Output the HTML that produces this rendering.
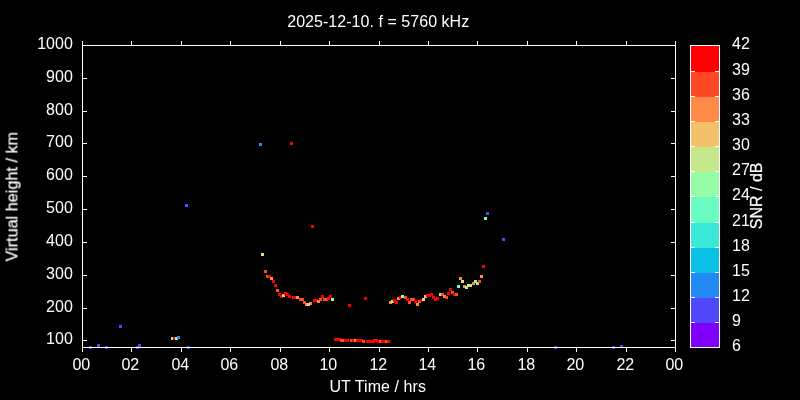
<!DOCTYPE html>
<html lang="en"><head><meta charset="utf-8"><title>2025-12-10. f = 5760 kHz</title>
<style>html,body{margin:0;padding:0;background:#000;overflow:hidden}svg{display:block}.tx{filter:grayscale(1)}text{font-family:"Liberation Sans", sans-serif;font-size:16px;fill:#fff}.rot{stroke:#fff;stroke-width:.2px}.ln{fill:#fff;shape-rendering:crispEdges}.pt{shape-rendering:crispEdges}</style></head><body>
<svg width="800" height="400" viewBox="0 0 800 400">
<rect width="800" height="400" fill="#000"/>
<g class="pt">
<rect x="89" y="346" width="3" height="3" fill="#5148fc"/>
<rect x="97" y="344" width="3" height="3" fill="#5148fc"/>
<rect x="105" y="346" width="3" height="3" fill="#5148fc"/>
<rect x="119" y="325" width="3" height="3" fill="#5148fc"/>
<rect x="136" y="346" width="3" height="3" fill="#5148fc"/>
<rect x="138" y="344" width="3" height="3" fill="#5148fc"/>
<rect x="171" y="337" width="3" height="3" fill="#68fcc1"/>
<rect x="173" y="337" width="3" height="3" fill="#ff0000"/>
<rect x="175" y="337" width="3" height="3" fill="#c5e88a"/>
<rect x="177" y="336" width="3" height="3" fill="#238af5"/>
<rect x="185" y="204" width="3" height="3" fill="#5148fc"/>
<rect x="187" y="346" width="3" height="3" fill="#5148fc"/>
<rect x="259" y="143" width="3" height="3" fill="#238af5"/>
<rect x="261" y="253" width="3" height="3" fill="#c5e88a"/>
<rect x="264" y="270" width="3" height="3" fill="#ff4824"/>
<rect x="266" y="275" width="3" height="3" fill="#ff4824"/>
<rect x="268" y="275" width="3" height="3" fill="#ff0000"/>
<rect x="270" y="277" width="3" height="3" fill="#ff8a48"/>
<rect x="272" y="280" width="3" height="3" fill="#ff0000"/>
<rect x="274" y="284" width="3" height="3" fill="#ff0000"/>
<rect x="276" y="289" width="3" height="3" fill="#ff4824"/>
<rect x="278" y="293" width="3" height="3" fill="#ff0000"/>
<rect x="280" y="295" width="3" height="3" fill="#ff0000"/>
<rect x="282" y="294" width="3" height="3" fill="#f3c16a"/>
<rect x="284" y="292" width="3" height="3" fill="#ff0000"/>
<rect x="286" y="293" width="3" height="3" fill="#ff0000"/>
<rect x="288" y="295" width="3" height="3" fill="#ff0000"/>
<rect x="290" y="142" width="3" height="3" fill="#ff0000"/>
<rect x="292" y="296" width="3" height="3" fill="#ff0000"/>
<rect x="293" y="296" width="3" height="3" fill="#ff0000"/>
<rect x="296" y="296" width="3" height="3" fill="#ff8a48"/>
<rect x="299" y="298" width="3" height="3" fill="#ff4824"/>
<rect x="301" y="298" width="3" height="3" fill="#ff4824"/>
<rect x="303" y="301" width="3" height="3" fill="#ff4824"/>
<rect x="305" y="303" width="3" height="3" fill="#ff8a48"/>
<rect x="307" y="303" width="3" height="3" fill="#c5e88a"/>
<rect x="309" y="302" width="3" height="3" fill="#ff8a48"/>
<rect x="311" y="225" width="3" height="3" fill="#ff0000"/>
<rect x="313" y="299" width="3" height="3" fill="#ff0000"/>
<rect x="315" y="299" width="3" height="3" fill="#ff0000"/>
<rect x="317" y="300" width="3" height="3" fill="#ff8a48"/>
<rect x="319" y="298" width="3" height="3" fill="#ff4824"/>
<rect x="321" y="295" width="3" height="3" fill="#ff0000"/>
<rect x="323" y="298" width="3" height="3" fill="#ff4824"/>
<rect x="325" y="298" width="3" height="3" fill="#ff4824"/>
<rect x="327" y="297" width="3" height="3" fill="#ff0000"/>
<rect x="329" y="295" width="3" height="3" fill="#ff0000"/>
<rect x="331" y="298" width="3" height="3" fill="#97fca7"/>
<rect x="334" y="338" width="3" height="3" fill="#ff0000"/>
<rect x="336" y="338" width="3" height="3" fill="#ff0000"/>
<rect x="338" y="338" width="3" height="3" fill="#ff0000"/>
<rect x="340" y="339" width="3" height="3" fill="#ff4824"/>
<rect x="342" y="339" width="3" height="3" fill="#ff4824"/>
<rect x="344" y="339" width="3" height="3" fill="#ff0000"/>
<rect x="346" y="339" width="3" height="3" fill="#ff0000"/>
<rect x="348" y="304" width="3" height="3" fill="#ff0000"/>
<rect x="350" y="339" width="3" height="3" fill="#ff4824"/>
<rect x="352" y="339" width="3" height="3" fill="#ff0000"/>
<rect x="354" y="339" width="3" height="3" fill="#ff8a48"/>
<rect x="356" y="339" width="3" height="3" fill="#ff0000"/>
<rect x="358" y="339" width="3" height="3" fill="#ff0000"/>
<rect x="360" y="339" width="3" height="3" fill="#ff0000"/>
<rect x="362" y="340" width="3" height="3" fill="#ff4824"/>
<rect x="364" y="297" width="3" height="3" fill="#ff0000"/>
<rect x="366" y="340" width="3" height="3" fill="#ff0000"/>
<rect x="368" y="340" width="3" height="3" fill="#ff0000"/>
<rect x="370" y="340" width="3" height="3" fill="#ff0000"/>
<rect x="372" y="340" width="3" height="3" fill="#ff0000"/>
<rect x="373" y="339" width="3" height="3" fill="#ff0000"/>
<rect x="375" y="339" width="3" height="3" fill="#ff0000"/>
<rect x="377" y="340" width="3" height="3" fill="#ff0000"/>
<rect x="379" y="340" width="3" height="3" fill="#ff4824"/>
<rect x="381" y="340" width="3" height="3" fill="#ff0000"/>
<rect x="383" y="340" width="3" height="3" fill="#ff0000"/>
<rect x="385" y="340" width="3" height="3" fill="#ff4824"/>
<rect x="387" y="340" width="3" height="3" fill="#ff0000"/>
<rect x="389" y="301" width="3" height="3" fill="#ff8a48"/>
<rect x="391" y="300" width="3" height="3" fill="#c5e88a"/>
<rect x="393" y="299" width="3" height="3" fill="#ff0000"/>
<rect x="395" y="301" width="3" height="3" fill="#ff0000"/>
<rect x="397" y="297" width="3" height="3" fill="#ff8a48"/>
<rect x="399" y="296" width="3" height="3" fill="#ff0000"/>
<rect x="401" y="295" width="3" height="3" fill="#97fca7"/>
<rect x="404" y="296" width="3" height="3" fill="#ff4824"/>
<rect x="406" y="298" width="3" height="3" fill="#ff0000"/>
<rect x="408" y="301" width="3" height="3" fill="#ff4824"/>
<rect x="410" y="298" width="3" height="3" fill="#ff4824"/>
<rect x="412" y="298" width="3" height="3" fill="#ff4824"/>
<rect x="414" y="300" width="3" height="3" fill="#ff0000"/>
<rect x="416" y="303" width="3" height="3" fill="#ff8a48"/>
<rect x="418" y="300" width="3" height="3" fill="#ff4824"/>
<rect x="420" y="299" width="3" height="3" fill="#ff0000"/>
<rect x="422" y="298" width="3" height="3" fill="#c5e88a"/>
<rect x="424" y="295" width="3" height="3" fill="#f3c16a"/>
<rect x="426" y="294" width="3" height="3" fill="#ff0000"/>
<rect x="428" y="294" width="3" height="3" fill="#ff0000"/>
<rect x="430" y="293" width="3" height="3" fill="#ff0000"/>
<rect x="432" y="296" width="3" height="3" fill="#ff0000"/>
<rect x="434" y="298" width="3" height="3" fill="#ff0000"/>
<rect x="436" y="297" width="3" height="3" fill="#ff0000"/>
<rect x="439" y="293" width="3" height="3" fill="#c5e88a"/>
<rect x="441" y="293" width="3" height="3" fill="#ff4824"/>
<rect x="443" y="295" width="3" height="3" fill="#ff8a48"/>
<rect x="445" y="296" width="3" height="3" fill="#ff4824"/>
<rect x="447" y="292" width="3" height="3" fill="#ff0000"/>
<rect x="449" y="288" width="3" height="3" fill="#ff0000"/>
<rect x="451" y="291" width="3" height="3" fill="#ff4824"/>
<rect x="453" y="293" width="3" height="3" fill="#ff0000"/>
<rect x="455" y="293" width="3" height="3" fill="#ff4824"/>
<rect x="457" y="285" width="3" height="3" fill="#68fcc1"/>
<rect x="459" y="277" width="3" height="3" fill="#ff8a48"/>
<rect x="461" y="280" width="3" height="3" fill="#c5e88a"/>
<rect x="463" y="285" width="3" height="3" fill="#ff8a48"/>
<rect x="465" y="286" width="3" height="3" fill="#c5e88a"/>
<rect x="467" y="284" width="3" height="3" fill="#c5e88a"/>
<rect x="469" y="284" width="3" height="3" fill="#c5e88a"/>
<rect x="472" y="282" width="3" height="3" fill="#ff8a48"/>
<rect x="474" y="280" width="3" height="3" fill="#97fca7"/>
<rect x="476" y="282" width="3" height="3" fill="#c5e88a"/>
<rect x="478" y="280" width="3" height="3" fill="#ff4824"/>
<rect x="480" y="275" width="3" height="3" fill="#ff8a48"/>
<rect x="482" y="265" width="3" height="3" fill="#ff0000"/>
<rect x="484" y="217" width="3" height="3" fill="#68fcc1"/>
<rect x="486" y="212" width="3" height="3" fill="#5148fc"/>
<rect x="502" y="238" width="3" height="3" fill="#5148fc"/>
<rect x="554" y="346" width="3" height="3" fill="#5148fc"/>
<rect x="612" y="346" width="3" height="3" fill="#5148fc"/>
<rect x="620" y="345" width="3" height="3" fill="#5148fc"/>
</g>
<g class="ln">
<rect x="82" y="45" width="594" height="1"/>
<rect x="82" y="347" width="594" height="1"/>
<rect x="82" y="45" width="1" height="303"/>
<rect x="675" y="45" width="1" height="303"/>
<rect x="82" y="41" width="1" height="4"/>
<rect x="82" y="348" width="1" height="4"/>
<rect x="131" y="41" width="1" height="4"/>
<rect x="131" y="348" width="1" height="4"/>
<rect x="181" y="41" width="1" height="4"/>
<rect x="181" y="348" width="1" height="4"/>
<rect x="230" y="41" width="1" height="4"/>
<rect x="230" y="348" width="1" height="4"/>
<rect x="280" y="41" width="1" height="4"/>
<rect x="280" y="348" width="1" height="4"/>
<rect x="329" y="41" width="1" height="4"/>
<rect x="329" y="348" width="1" height="4"/>
<rect x="379" y="41" width="1" height="4"/>
<rect x="379" y="348" width="1" height="4"/>
<rect x="428" y="41" width="1" height="4"/>
<rect x="428" y="348" width="1" height="4"/>
<rect x="477" y="41" width="1" height="4"/>
<rect x="477" y="348" width="1" height="4"/>
<rect x="527" y="41" width="1" height="4"/>
<rect x="527" y="348" width="1" height="4"/>
<rect x="576" y="41" width="1" height="4"/>
<rect x="576" y="348" width="1" height="4"/>
<rect x="626" y="41" width="1" height="4"/>
<rect x="626" y="348" width="1" height="4"/>
<rect x="675" y="41" width="1" height="4"/>
<rect x="675" y="348" width="1" height="4"/>
<rect x="83" y="45" width="4" height="1"/>
<rect x="671" y="45" width="4" height="1"/>
<rect x="83" y="78" width="4" height="1"/>
<rect x="671" y="78" width="4" height="1"/>
<rect x="83" y="111" width="4" height="1"/>
<rect x="671" y="111" width="4" height="1"/>
<rect x="83" y="143" width="4" height="1"/>
<rect x="671" y="143" width="4" height="1"/>
<rect x="83" y="176" width="4" height="1"/>
<rect x="671" y="176" width="4" height="1"/>
<rect x="83" y="209" width="4" height="1"/>
<rect x="671" y="209" width="4" height="1"/>
<rect x="83" y="242" width="4" height="1"/>
<rect x="671" y="242" width="4" height="1"/>
<rect x="83" y="275" width="4" height="1"/>
<rect x="671" y="275" width="4" height="1"/>
<rect x="83" y="308" width="4" height="1"/>
<rect x="671" y="308" width="4" height="1"/>
<rect x="83" y="340" width="4" height="1"/>
<rect x="671" y="340" width="4" height="1"/>
</g>
<g class="tx">
<text x="81.30" y="369.5" text-anchor="middle">00</text>
<text x="130.30" y="369.5" text-anchor="middle">02</text>
<text x="180.30" y="369.5" text-anchor="middle">04</text>
<text x="229.30" y="369.5" text-anchor="middle">06</text>
<text x="279.30" y="369.5" text-anchor="middle">08</text>
<text x="328.30" y="369.5" text-anchor="middle">10</text>
<text x="378.30" y="369.5" text-anchor="middle">12</text>
<text x="427.30" y="369.5" text-anchor="middle">14</text>
<text x="476.30" y="369.5" text-anchor="middle">16</text>
<text x="526.30" y="369.5" text-anchor="middle">18</text>
<text x="575.30" y="369.5" text-anchor="middle">20</text>
<text x="625.30" y="369.5" text-anchor="middle">22</text>
<text x="674.30" y="369.5" text-anchor="middle">00</text>
<text x="72.8" y="49.10" text-anchor="end">1000</text>
<text x="72.8" y="82.10" text-anchor="end">900</text>
<text x="72.8" y="115.10" text-anchor="end">800</text>
<text x="72.8" y="147.10" text-anchor="end">700</text>
<text x="72.8" y="180.10" text-anchor="end">600</text>
<text x="72.8" y="213.10" text-anchor="end">500</text>
<text x="72.8" y="246.10" text-anchor="end">400</text>
<text x="72.8" y="279.10" text-anchor="end">300</text>
<text x="72.8" y="312.10" text-anchor="end">200</text>
<text x="72.8" y="344.10" text-anchor="end">100</text>
<text x="378.2" y="27.0" text-anchor="middle" textLength="182" lengthAdjust="spacing">2025-12-10. f = 5760 kHz</text>
<text x="377.7" y="391.8" text-anchor="middle" textLength="96.5" lengthAdjust="spacing">UT Time / hrs</text>
<text class="rot" transform="translate(17.5,196.7) rotate(-90)" text-anchor="middle" textLength="129.4" lengthAdjust="spacing">Virtual height / km</text>
</g>
<g class="pt">
<rect x="690" y="323" width="30" height="25" fill="#8000ff"/>
<rect x="690" y="298" width="30" height="25" fill="#5148fc"/>
<rect x="690" y="273" width="30" height="25" fill="#238af5"/>
<rect x="690" y="248" width="30" height="25" fill="#0cc1e8"/>
<rect x="690" y="223" width="30" height="25" fill="#3ae8d7"/>
<rect x="690" y="197" width="30" height="26" fill="#68fcc1"/>
<rect x="690" y="172" width="30" height="25" fill="#97fca7"/>
<rect x="690" y="147" width="30" height="25" fill="#c5e88a"/>
<rect x="690" y="122" width="30" height="25" fill="#f3c16a"/>
<rect x="690" y="97" width="30" height="25" fill="#ff8a48"/>
<rect x="690" y="72" width="30" height="25" fill="#ff4824"/>
<rect x="690" y="46" width="30" height="26" fill="#ff0000"/>
</g>
<g class="ln">
<rect x="690" y="45" width="30" height="1"/>
<rect x="690" y="347" width="30" height="1"/>
<rect x="690" y="45" width="1" height="303"/>
<rect x="719" y="45" width="1" height="303"/>
<rect x="691" y="322" width="4" height="1"/>
<rect x="715" y="322" width="4" height="1"/>
<rect x="691" y="297" width="4" height="1"/>
<rect x="715" y="297" width="4" height="1"/>
<rect x="691" y="272" width="4" height="1"/>
<rect x="715" y="272" width="4" height="1"/>
<rect x="691" y="247" width="4" height="1"/>
<rect x="715" y="247" width="4" height="1"/>
<rect x="691" y="222" width="4" height="1"/>
<rect x="715" y="222" width="4" height="1"/>
<rect x="691" y="196" width="4" height="1"/>
<rect x="715" y="196" width="4" height="1"/>
<rect x="691" y="171" width="4" height="1"/>
<rect x="715" y="171" width="4" height="1"/>
<rect x="691" y="146" width="4" height="1"/>
<rect x="715" y="146" width="4" height="1"/>
<rect x="691" y="121" width="4" height="1"/>
<rect x="715" y="121" width="4" height="1"/>
<rect x="691" y="96" width="4" height="1"/>
<rect x="715" y="96" width="4" height="1"/>
<rect x="691" y="71" width="4" height="1"/>
<rect x="715" y="71" width="4" height="1"/>
</g>
<g class="tx">
<text x="732.0" y="351.10">6</text>
<text x="732.0" y="326.10">9</text>
<text x="732.0" y="301.10">12</text>
<text x="732.0" y="276.10">15</text>
<text x="732.0" y="251.10">18</text>
<text x="732.0" y="226.10">21</text>
<text x="732.0" y="200.10">24</text>
<text x="732.0" y="175.10">27</text>
<text x="732.0" y="150.10">30</text>
<text x="732.0" y="125.10">33</text>
<text x="732.0" y="100.10">36</text>
<text x="732.0" y="75.10">39</text>
<text x="732.0" y="49.10">42</text>
<text class="rot" transform="translate(762.0,195.8) rotate(-90)" text-anchor="middle">SNR / dB</text>
</g>
</svg></body></html>
